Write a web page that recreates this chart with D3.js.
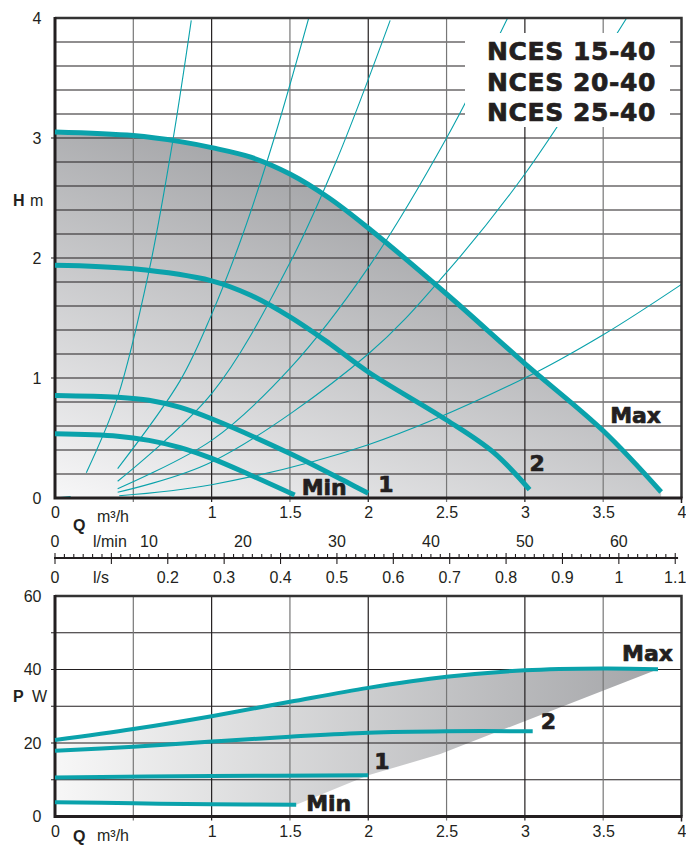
<!DOCTYPE html>
<html>
<head>
<meta charset="utf-8">
<script src="https://cdn.jsdelivr.net/npm/d3@7"></script>
<style>
  body { margin: 0; background: #fff; }
  svg { display: block; }
</style>
</head>
<body>
<div id="chart"></div>
<script>
// ---- data ----
// H-Q curves (Q in m3/h, H in m)
const qMax = [0, 0.5, 0.8, 1.0, 1.25, 1.5, 1.75, 2.0, 2.5, 3.0, 3.5, 3.87];
const hMax = [3.05, 3.02, 2.97, 2.92, 2.84, 2.70, 2.50, 2.25, 1.70, 1.12, 0.56, 0.05];
const q2 = [0, 0.5, 1.0, 1.25, 1.5, 1.75, 2.0, 2.5, 2.8, 3.03];
const h2 = [1.94, 1.91, 1.81, 1.69, 1.51, 1.29, 1.05, 0.65, 0.38, 0.07];
const q1 = [0, 0.4, 0.6, 0.8, 1.0, 1.5, 1.88, 2.0];
const h1 = [0.855, 0.84, 0.815, 0.755, 0.66, 0.37, 0.12, 0.04];
const qMin = [0, 0.4, 0.6, 0.8, 1.0, 1.25, 1.53];
const hMin = [0.535, 0.515, 0.48, 0.42, 0.33, 0.19, 0.025];
const speedNames = ['Min', '1', '2', 'Max'];

// thin system curves
const sysQ = [
  [0.20, 0.40, 0.60, 0.75, 0.87],
  [0.40, 0.80, 1.00, 1.20, 1.40, 1.62],
  [0.40, 1.00, 1.50, 1.80, 2.14],
  [0.40, 1.00, 1.50, 2.00, 2.50, 2.89],
  [0.40, 1.00, 2.00, 2.50, 3.00, 3.65],
  [0.41, 1.00, 2.00, 3.00, 3.50, 4.00],
  [0.00, 0.10]
];
const sysH = [
  [0.21, 0.84, 1.89, 2.96, 3.98],
  [0.245, 0.98, 1.53, 2.20, 3.00, 4.00],
  [0.14, 0.87, 1.96, 2.82, 3.98],
  [0.077, 0.48, 1.08, 1.92, 3.00, 4.00],
  [0.048, 0.30, 1.20, 1.88, 2.70, 4.00],
  [0.019, 0.111, 0.444, 1.00, 1.36, 1.78],
  [0.00, 0.012]
];

// P-Q curves (P in W)
const pqMax = [0, 0.5, 1.0, 1.5, 2.0, 2.5, 3.0, 3.5, 3.85];
const pMax = [20.8, 23.8, 27.3, 31.2, 35.0, 38.0, 39.8, 40.3, 40.1];
const pq2 = [0, 0.5, 1.0, 1.5, 2.0, 2.5, 3.05];
const p2 = [17.9, 19.0, 20.4, 21.7, 22.8, 23.2, 23.2];
const pq1 = [0, 1.0, 2.0];
const p1 = [10.6, 11.0, 11.2];
const pqMin = [0, 0.5, 1.0, 1.54];
const pMin = [3.9, 3.6, 3.3, 3.2];
// lower edge of the shaded power band
const pqEdge = [1.54, 2.0, 2.46, 3.85];
const pEdge = [3.2, 11.2, 17.0, 40.1];

const titleLines = ['NCES 15-40', 'NCES 20-40', 'NCES 25-40'];
const qTicks = [0, 1, 1.5, 2, 2.5, 3, 3.5, 4];
const hTicks = [0, 1, 2, 3, 4];
const pTicks = [0, 20, 40, 60];
const lminTicks = [0, 10, 20, 30, 40, 50, 60];
const lsTicks = [0, 0.2, 0.3, 0.4, 0.5, 0.6, 0.7, 0.8, 0.9, 1, 1.1];

// ---- layout ----
const teal = '#0aa2ab';
const ink = '#231f20';
const sans = '"Liberation Sans", Arial, sans-serif';
const bold = '"DejaVu Sans", sans-serif';

const svg = d3.select('#chart').append('svg')
    .attr('width', 686)
    .attr('height', 846);
const defs = svg.append('defs');

const left = 55, right = 681.5;
const x = d3.scaleLinear().domain([0, 4]).range([left, right]);
const yH = d3.scaleLinear().domain([0, 4]).range([498, 18]);
const yP = d3.scaleLinear().domain([0, 60]).range([816.5, 596]);
const xLmin = d3.scaleLinear().domain([0, 4 / 0.06]).range([left, right]);
const xLs = d3.scaleLinear().domain([0, 4 / 3.6]).range([left, right]);

const zip = (qs, vs) => qs.map((q, i) => [q, vs[i]]);
const smooth = d3.curveCatmullRom.alpha(0.5);

// gradients
const gH = defs.append('linearGradient').attr('id', 'shadeH')
    .attr('gradientUnits', 'userSpaceOnUse')
    .attr('x1', x(0)).attr('y1', yH(0))
    .attr('x2', x(0) + 150).attr('y2', yH(0) - 408);
gH.append('stop').attr('offset', 0).attr('stop-color', '#f7f7f8');
gH.append('stop').attr('offset', 1).attr('stop-color', '#9c9da0');

const gP = defs.append('linearGradient').attr('id', 'shadeP')
    .attr('gradientUnits', 'userSpaceOnUse')
    .attr('x1', x(0)).attr('y1', 0)
    .attr('x2', x(3.85)).attr('y2', 0);
gP.append('stop').attr('offset', 0).attr('stop-color', '#f7f7f7');
gP.append('stop').attr('offset', 1).attr('stop-color', '#a5a6a9');

defs.append('clipPath').attr('id', 'clipTop')
  .append('rect')
    .attr('x', left).attr('y', yH(4))
    .attr('width', right - left).attr('height', yH(0) - yH(4));

// grid + frame helpers
function drawGrid(g, y, hVals, hMajor, yMin, yMax) {
  g.selectAll('line.h').data(hVals).join('line')
      .attr('class', 'h')
      .attr('x1', d => hMajor(d) ? left - 4 : left)
      .attr('x2', right)
      .attr('y1', d => y(d)).attr('y2', d => y(d))
      .attr('stroke', ink).attr('stroke-width', 1.2);
  g.selectAll('line.v').data(d3.range(1, 8).map(i => i / 2)).join('line')
      .attr('class', 'v')
      .attr('x1', d => x(d)).attr('x2', d => x(d))
      .attr('y1', y(yMax)).attr('y2', y(yMin) + 4)
      .attr('stroke', d => d % 1 === 0 ? ink : '#777')
      .attr('stroke-width', 1.2);
}

function drawFrame(g, y, yMin, yMax) {
  g.append('path')
      .attr('d', `M${left},${y(yMax)}H${right}V${y(yMin)}`)
      .attr('fill', 'none').attr('stroke', '#333').attr('stroke-width', 2.5);
  g.append('line')
      .attr('x1', right).attr('x2', right)
      .attr('y1', y(yMin)).attr('y2', y(yMin) + 5)
      .attr('stroke', ink).attr('stroke-width', 1.5);
  g.append('path')
      .attr('d', `M${left},${y(yMax) - 1}V${y(yMin)}H${right + 1}`)
      .attr('fill', 'none').attr('stroke', ink).attr('stroke-width', 3);
}

function styleAxis(g) {
  g.select('.domain').remove();
  g.attr('font-family', sans).attr('font-size', 16).style('color', ink);
}

function heavy(sel, size) {
  sel.attr('font-family', bold).attr('font-weight', 'bold')
     .attr('font-size', size).attr('fill', ink)
     .attr('stroke', ink).attr('stroke-width', 0.7)
     .attr('stroke-linejoin', 'round');
}

const lineGen = (xs, ys) => d3.line().x(d => xs(d[0])).y(d => ys(d[1])).curve(smooth);

// ================= top chart: H-Q =================
const topG = svg.append('g').attr('id', 'hq');

const areaH = d3.area()
    .x(d => x(d[0]))
    .y0(yH(0))
    .y1(d => yH(d[1]))
    .curve(smooth);
topG.append('path')
    .datum(zip(qMax, hMax))
    .attr('d', areaH)
    .attr('fill', 'url(#shadeH)');

drawGrid(topG, yH, d3.range(1, 20).map(i => i / 5), d => Number.isInteger(d), 0, 4);

// system curves
topG.append('g').attr('clip-path', 'url(#clipTop)')
  .selectAll('path')
  .data(sysQ.map((qs, i) => zip(qs, sysH[i])))
  .join('path')
    .attr('d', lineGen(x, yH))
    .attr('fill', 'none')
    .attr('stroke', teal)
    .attr('stroke-width', 1.1);

// model box
topG.append('rect')
    .attr('x', 465).attr('y', 33)
    .attr('width', 205).attr('height', 94)
    .attr('fill', '#fff');
topG.selectAll('text.title').data(titleLines).join('text')
    .attr('class', 'title')
    .attr('x', 487)
    .attr('y', (d, i) => 60 + i * 30.5)
    .call(heavy, 25)
    .attr('letter-spacing', 0.6)
    .text(d => d);

drawFrame(topG, yH, 0, 4);

const hCurves = [zip(qMin, hMin), zip(q1, h1), zip(q2, h2), zip(qMax, hMax)];
topG.selectAll('path.speed').data(hCurves).join('path')
    .attr('class', 'speed')
    .attr('d', lineGen(x, yH))
    .attr('fill', 'none')
    .attr('stroke', teal)
    .attr('stroke-width', 5);

// curve names, offset from the end of each curve
const hLabelOff = [[7, 0], [10, -1], [0, -19], [-51, -69]];
topG.selectAll('text.speed').data(hCurves).join('text')
    .attr('class', 'speed')
    .attr('x', (d, i) => x(d[d.length - 1][0]) + hLabelOff[i][0])
    .attr('y', (d, i) => yH(d[d.length - 1][1]) + hLabelOff[i][1])
    .call(heavy, 22)
    .text((d, i) => speedNames[i]);

// axes
topG.append('g')
    .attr('transform', `translate(0,${yH(0)})`)
    .call(d3.axisBottom(x).tickValues(qTicks).tickFormat(d3.format('~g')).tickSize(0).tickPadding(8.5))
    .call(styleAxis);
topG.append('g')
    .attr('transform', `translate(${left},0)`)
    .call(d3.axisLeft(yH).tickValues(hTicks).tickFormat(d3.format('d')).tickSize(0).tickPadding(13.5))
    .call(styleAxis);

const yLab = topG.append('text').attr('x', 13).attr('y', 206)
    .attr('font-family', sans).attr('font-size', 16).attr('fill', ink);
yLab.append('tspan').attr('font-weight', 'bold').text('H');
yLab.append('tspan').attr('x', 30).text('m');

topG.append('text').attr('x', 73).attr('y', 531)
    .attr('font-family', sans).attr('font-size', 16).attr('font-weight', 'bold')
    .attr('fill', ink).text('Q');
topG.append('text').attr('x', 97).attr('y', 522)
    .attr('font-family', sans).attr('font-size', 16).attr('fill', ink).text('m³/h');

// ================= unit scales =================
const unitG = svg.append('g').attr('id', 'units');
const axisY = 558;
unitG.append('line')
    .attr('x1', left - 1).attr('x2', xLmin(66.3))
    .attr('y1', axisY).attr('y2', axisY)
    .attr('stroke', ink).attr('stroke-width', 2.2);
unitG.selectAll('line.tk').data(d3.range(0, 67)).join('line')
    .attr('class', 'tk')
    .attr('x1', d => xLmin(d)).attr('x2', d => xLmin(d))
    .attr('y1', d => d % 6 === 0 ? axisY - 5 : axisY - 4)
    .attr('y2', d => d % 6 === 0 ? axisY + 6 : axisY)
    .attr('stroke', ink).attr('stroke-width', 1.1);

unitG.selectAll('text.lmin').data(lminTicks).join('text')
    .attr('class', 'lmin')
    .attr('x', d => xLmin(d)).attr('y', 547)
    .attr('text-anchor', 'middle')
    .attr('font-family', sans).attr('font-size', 16).attr('fill', ink)
    .text(d => d);
unitG.append('text').attr('x', 93).attr('y', 547)
    .attr('font-family', sans).attr('font-size', 16).attr('fill', ink).text('l/min');

unitG.selectAll('text.ls').data(lsTicks).join('text')
    .attr('class', 'ls')
    .attr('x', d => xLs(d)).attr('y', 583)
    .attr('text-anchor', 'middle')
    .attr('font-family', sans).attr('font-size', 16).attr('fill', ink)
    .text(d => d3.format('~g')(d));
unitG.append('text').attr('x', 93).attr('y', 583)
    .attr('font-family', sans).attr('font-size', 16).attr('fill', ink).text('l/s');

// ================= bottom chart: P-Q =================
const botG = svg.append('g').attr('id', 'pq');

const bandTop = lineGen(x, yP)(zip(pqMax, pMax));
const bandRest = zip(pqEdge, pEdge).reverse()
    .concat(zip(pqMin, pMin).reverse())
    .map(d => `L${x(d[0])},${yP(d[1])}`).join('');
botG.append('path')
    .attr('d', bandTop + bandRest + 'Z')
    .attr('fill', 'url(#shadeP)');

drawGrid(botG, yP, d3.range(1, 6).map(i => i * 10), () => true, 0, 60);
drawFrame(botG, yP, 0, 60);

const pCurves = [zip(pqMin, pMin), zip(pq1, p1), zip(pq2, p2), zip(pqMax, pMax)];
botG.selectAll('path.speed').data(pCurves).join('path')
    .attr('class', 'speed')
    .attr('d', lineGen(x, yP))
    .attr('fill', 'none')
    .attr('stroke', teal)
    .attr('stroke-width', 4);

const pLabelOff = [[10, 6], [6, -6], [8, -2], [-36, -8]];
botG.selectAll('text.speed').data(pCurves).join('text')
    .attr('class', 'speed')
    .attr('x', (d, i) => x(d[d.length - 1][0]) + pLabelOff[i][0])
    .attr('y', (d, i) => yP(d[d.length - 1][1]) + pLabelOff[i][1])
    .call(heavy, 22)
    .text((d, i) => speedNames[i]);

botG.append('g')
    .attr('transform', `translate(0,${yP(0)})`)
    .call(d3.axisBottom(x).tickValues(qTicks).tickFormat(d3.format('~g')).tickSize(0).tickPadding(9))
    .call(styleAxis);
botG.append('g')
    .attr('transform', `translate(${left},0)`)
    .call(d3.axisLeft(yP).tickValues(pTicks).tickFormat(d3.format('d')).tickSize(0).tickPadding(13.5))
    .call(styleAxis);

const pLab = botG.append('text').attr('x', 13).attr('y', 702)
    .attr('font-family', sans).attr('font-size', 16).attr('fill', ink);
pLab.append('tspan').attr('font-weight', 'bold').text('P');
pLab.append('tspan').attr('x', 32).text('W');

botG.append('text').attr('x', 73).attr('y', 842)
    .attr('font-family', sans).attr('font-size', 16).attr('font-weight', 'bold')
    .attr('fill', ink).text('Q');
botG.append('text').attr('x', 97).attr('y', 841)
    .attr('font-family', sans).attr('font-size', 16).attr('fill', ink).text('m³/h');
</script>
</body>
</html>
